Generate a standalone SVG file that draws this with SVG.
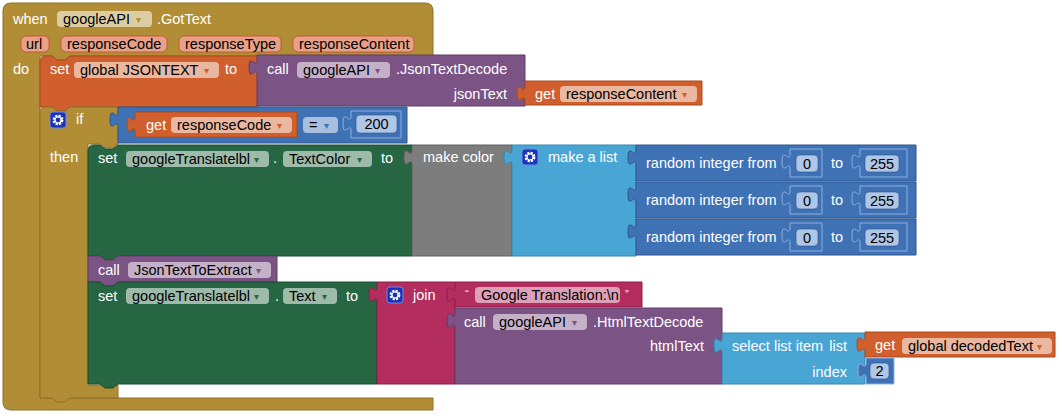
<svg xmlns="http://www.w3.org/2000/svg" width="1062" height="418" viewBox="0 0 1062 418">
<style>
text{font-family:"Liberation Sans",Arial,sans-serif;font-size:14.5px}
.w{fill:#fff}
.k{fill:#000}
.fl{fill:#fff;fill-opacity:0.55}
.a{font-size:10px}
.gold{fill:#B18E35;stroke:#8E7026;stroke-width:1}
.org{fill:#D05F2D;stroke:#A84A20;stroke-width:1}
.pur{fill:#7C5385;stroke:#5F3C68;stroke-width:1}
.blu{fill:#3F71B5;stroke:#2E5690;stroke-width:1}
.lbl{fill:#49A6D4;stroke:#3586AE;stroke-width:1}
.grn{fill:#266643;stroke:#1A4D31;stroke-width:1}
.gry{fill:#7D7D7D;stroke:#606060;stroke-width:1}
.mag{fill:#B32D5E;stroke:#8C1F47;stroke-width:1}
.num{fill:#3F71B5;stroke:#8FB0DE;stroke-width:1}
.nf{fill:#AFC6E6;stroke:#2E5690;stroke-width:0.6}
.chip{fill:#E8A088;stroke:#C25A33;stroke-width:1}
</style>
<defs>
<g id="gear">
<rect x="0" y="0" width="16" height="16" rx="3" fill="#1A33B8" stroke="#6F86E0" stroke-width="1"/>
<circle cx="8" cy="8" r="4.2" fill="none" stroke="#fff" stroke-width="2.4" stroke-dasharray="2.2 1.1"/>
<circle cx="8" cy="8" r="3" fill="none" stroke="#fff" stroke-width="1.2"/>
</g>
</defs>

<g id="event-gottext">
<path class="gold" d="M 3,11 Q 3,3 11,3 H 425 Q 433,3 433,11 V 56 H 70 l -5,4 -8,0 -5,-4 H 40 V 398 H 433 V 410 H 11 Q 3,410 3,402 Z"/>
<text class="w" x="13" y="24">when</text>
<rect class="fl" x="57" y="11" width="95" height="16" rx="4"/>
<text class="k" x="63" y="24">googleAPI</text>
<text class="a" x="136" y="23" fill="#B18E35">▾</text>
<text class="w" x="157" y="24">.GotText</text>
<rect class="chip" x="21" y="36" width="28" height="16" rx="5"/>
<text class="k" x="26" y="49">url</text>
<rect class="chip" x="61" y="36" width="106" height="16" rx="5"/>
<text class="k" x="67" y="49">responseCode</text>
<rect class="chip" x="179" y="36" width="102" height="16" rx="5"/>
<text class="k" x="185" y="49">responseType</text>
<rect class="chip" x="293" y="36" width="121" height="16" rx="5"/>
<text class="k" x="299" y="49">responseContent</text>
<text class="w" x="13" y="74">do</text>
</g>

<g id="set-jsontext">
<path class="org" d="M 40,62 Q 40,56 46,56 H 52 l 5,4 8,0 5,-4 H 258 V 107 H 70 l -5,4 -8,0 -5,-4 H 40 Z"/>
<text class="w" x="50" y="74">set</text>
<rect class="fl" x="74" y="62" width="145" height="16" rx="4"/>
<text class="k" x="80" y="75">global JSONTEXT</text>
<text class="a" x="204" y="74" fill="#D05F2D">▾</text>
<text class="w" x="225" y="74">to</text>
</g>

<g id="call-jsontextdecode">
<path class="pur" d="M 257,55 H 525 V 106 H 257 V 75 c 0,-10 -8,8 -8,-7.5 s 8,2.5 8,-7.5 Z"/>
<text class="w" x="267" y="74">call</text>
<rect class="fl" x="297" y="62" width="93" height="16" rx="4"/>
<text class="k" x="303" y="75">googleAPI</text>
<text class="a" x="375" y="74" fill="#7C5385">▾</text>
<text class="w" x="396" y="74">.JsonTextDecode</text>
<text class="w" x="507" y="99" text-anchor="end">jsonText</text>
</g>

<g id="get-responsecontent">
<path class="org" d="M 525,81 H 702 V 105 H 525 V 101 c 0,-10 -8,8 -8,-7.5 s 8,2.5 8,-7.5 Z"/>
<text class="w" x="535" y="99">get</text>
<rect class="fl" x="560" y="86" width="137" height="16" rx="4"/>
<text class="k" x="566" y="99">responseContent</text>
<text class="a" x="682" y="98" fill="#D05F2D">▾</text>
</g>

<g id="if-block">
<path class="gold" d="M 40,113 Q 40,107 46,107 H 52 l 5,4 8,0 5,-4 H 118 V 144 l -5,4 -8,0 -5,-4 H 88 V 385 H 118 V 398 H 70 l -5,4 -8,0 -5,-4 H 40 Z"/>
<use href="#gear" x="50" y="112"/>
<text class="w" x="76" y="124">if</text>
<text class="w" x="50" y="162">then</text>
</g>

<g id="compare">
<path class="blu" d="M 118,107 H 407 V 143 H 118 V 127 c 0,-10 -8,8 -8,-7.5 s 8,2.5 8,-7.5 Z"/>
<rect class="fl" x="303" y="117" width="35" height="16" rx="4"/>
<text class="k" x="309" y="130">=</text>
<text class="a" x="324" y="129" fill="#3F71B5">▾</text>
</g>

<g id="get-responsecode">
<path class="org" d="M 135,112 H 297 V 137 H 135 V 132 c 0,-10 -8,8 -8,-7.5 s 8,2.5 8,-7.5 Z"/>
<text class="w" x="146" y="130">get</text>
<rect class="fl" x="171" y="117" width="121" height="16" rx="4"/>
<text class="k" x="177" y="130">responseCode</text>
<text class="a" x="277" y="129" fill="#D05F2D">▾</text>
</g>

<g id="number-200">
<path class="num" d="M 351,111 H 401 V 138 H 351 V 131 c 0,-10 -8,8 -8,-7.5 s 8,2.5 8,-7.5 Z"/>
<rect class="nf" x="356" y="115" width="41" height="18" rx="4"/>
<text class="k" x="376.5" y="129" text-anchor="middle">200</text>
</g>

<g id="set-textcolor">
<path class="grn" d="M 88,151 Q 88,145 94,145 H 100 l 5,4 8,0 5,-4 H 412 V 256 H 118 l -5,4 -8,0 -5,-4 H 88 Z"/>
<text class="w" x="98" y="163">set</text>
<rect class="fl" x="126" y="151" width="143" height="16" rx="4"/>
<text class="k" x="132" y="164">googleTranslatelbl</text>
<text class="a" x="254" y="163" fill="#266643">▾</text>
<text class="w" x="273" y="163">.</text>
<rect class="fl" x="283" y="151" width="89" height="16" rx="4"/>
<text class="k" x="289" y="164">TextColor</text>
<text class="a" x="357" y="163" fill="#266643">▾</text>
<text class="w" x="381" y="163">to</text>
</g>

<g id="make-color">
<path class="gry" d="M 412,145 H 512 V 256 H 412 V 165 c 0,-10 -8,8 -8,-7.5 s 8,2.5 8,-7.5 Z"/>
<text class="w" x="423" y="162">make color</text>
</g>

<g id="make-a-list">
<path class="lbl" d="M 512,145 H 636 V 256 H 512 V 165 c 0,-10 -8,8 -8,-7.5 s 8,2.5 8,-7.5 Z"/>
<use href="#gear" x="522" y="149"/>
<text class="w" x="548" y="162">make a list</text>
</g>

<g id="random-1">
<path class="blu" d="M 636,145 H 916 V 181 H 636 V 165 c 0,-10 -8,8 -8,-7.5 s 8,2.5 8,-7.5 Z"/>
<text class="w" x="646" y="168">random integer from</text>
<path class="num" d="M 790,149 H 822 V 177 H 790 V 169 c 0,-10 -8,8 -8,-7.5 s 8,2.5 8,-7.5 Z"/>
<rect class="nf" x="796" y="155" width="22" height="17" rx="4"/>
<text class="k" x="807" y="168.5" text-anchor="middle">0</text>
<text class="w" x="831" y="168">to</text>
<path class="num" d="M 860,149 H 907 V 177 H 860 V 169 c 0,-10 -8,8 -8,-7.5 s 8,2.5 8,-7.5 Z"/>
<rect class="nf" x="865" y="155" width="34" height="17" rx="4"/>
<text class="k" x="882" y="168.5" text-anchor="middle">255</text>
</g>

<g id="random-2">
<path class="blu" d="M 636,182 H 916 V 218 H 636 V 202 c 0,-10 -8,8 -8,-7.5 s 8,2.5 8,-7.5 Z"/>
<text class="w" x="646" y="205">random integer from</text>
<path class="num" d="M 790,186 H 822 V 214 H 790 V 206 c 0,-10 -8,8 -8,-7.5 s 8,2.5 8,-7.5 Z"/>
<rect class="nf" x="796" y="192" width="22" height="17" rx="4"/>
<text class="k" x="807" y="205.5" text-anchor="middle">0</text>
<text class="w" x="831" y="205">to</text>
<path class="num" d="M 860,186 H 907 V 214 H 860 V 206 c 0,-10 -8,8 -8,-7.5 s 8,2.5 8,-7.5 Z"/>
<rect class="nf" x="865" y="192" width="34" height="17" rx="4"/>
<text class="k" x="882" y="205.5" text-anchor="middle">255</text>
</g>

<g id="random-3">
<path class="blu" d="M 636,219 H 916 V 255 H 636 V 239 c 0,-10 -8,8 -8,-7.5 s 8,2.5 8,-7.5 Z"/>
<text class="w" x="646" y="242">random integer from</text>
<path class="num" d="M 790,223 H 822 V 251 H 790 V 243 c 0,-10 -8,8 -8,-7.5 s 8,2.5 8,-7.5 Z"/>
<rect class="nf" x="796" y="229" width="22" height="17" rx="4"/>
<text class="k" x="807" y="242.5" text-anchor="middle">0</text>
<text class="w" x="831" y="242">to</text>
<path class="num" d="M 860,223 H 907 V 251 H 860 V 243 c 0,-10 -8,8 -8,-7.5 s 8,2.5 8,-7.5 Z"/>
<rect class="nf" x="865" y="229" width="34" height="17" rx="4"/>
<text class="k" x="882" y="242.5" text-anchor="middle">255</text>
</g>

<g id="call-jsontexttoextract">
<path class="pur" d="M 88,256 H 100 l 5,4 8,0 5,-4 H 277 V 282 H 118 l -5,4 -8,0 -5,-4 H 88 Z"/>
<text class="w" x="98" y="275">call</text>
<rect class="fl" x="128" y="262" width="143" height="16" rx="4"/>
<text class="k" x="134" y="275">JsonTextToExtract</text>
<text class="a" x="256" y="274" fill="#7C5385">▾</text>
</g>

<g id="set-text">
<path class="grn" d="M 88,282 H 100 l 5,4 8,0 5,-4 H 377 V 384 H 118 l -5,4 -8,0 -5,-4 H 88 Z"/>
<text class="w" x="98" y="301">set</text>
<rect class="fl" x="126" y="288" width="143" height="16" rx="4"/>
<text class="k" x="132" y="301">googleTranslatelbl</text>
<text class="a" x="254" y="300" fill="#266643">▾</text>
<text class="w" x="275" y="301">.</text>
<rect class="fl" x="283" y="288" width="54" height="16" rx="4"/>
<text class="k" x="289" y="301">Text</text>
<text class="a" x="322" y="300" fill="#266643">▾</text>
<text class="w" x="346" y="301">to</text>
</g>

<g id="join">
<path class="mag" d="M 377,282 H 455 V 384 H 377 V 302 c 0,-10 -8,8 -8,-7.5 s 8,2.5 8,-7.5 Z"/>
<use href="#gear" x="387" y="287"/>
<text class="w" x="413" y="300">join</text>
</g>

<g id="text-google-translation">
<path class="mag" d="M 455,282 H 642 V 307 H 455 V 302 c 0,-10 -8,8 -8,-7.5 s 8,2.5 8,-7.5 Z"/>
<text class="w" x="465" y="298" style="font-size:11px">“</text>
<rect class="fl" x="475" y="287" width="145" height="16" rx="4"/>
<text class="k" x="481" y="300">Google Translation:\n</text>
<text class="w" x="625" y="298" style="font-size:11px">”</text>
</g>

<g id="call-htmltextdecode">
<path class="pur" d="M 455,308 H 722 V 384 H 455 V 328 c 0,-10 -8,8 -8,-7.5 s 8,2.5 8,-7.5 Z"/>
<text class="w" x="464" y="327">call</text>
<rect class="fl" x="493" y="314" width="94" height="16" rx="4"/>
<text class="k" x="499" y="327">googleAPI</text>
<text class="a" x="572" y="326" fill="#7C5385">▾</text>
<text class="w" x="593" y="327">.HtmlTextDecode</text>
<text class="w" x="704" y="351" text-anchor="end">htmlText</text>
</g>

<g id="select-list-item">
<path class="lbl" d="M 722,333 H 865 V 384 H 722 V 353 c 0,-10 -8,8 -8,-7.5 s 8,2.5 8,-7.5 Z"/>
<text class="w" x="732" y="351">select list item</text>
<text class="w" x="847" y="351" text-anchor="end">list</text>
<text class="w" x="847" y="377" text-anchor="end">index</text>
</g>

<g id="get-decodedtext">
<path class="org" d="M 865,332 H 1055 V 357 H 865 V 352 c 0,-10 -8,8 -8,-7.5 s 8,2.5 8,-7.5 Z"/>
<text class="w" x="875" y="350">get</text>
<rect class="fl" x="902" y="338" width="150" height="16" rx="4"/>
<text class="k" x="908" y="351">global decodedText</text>
<text class="a" x="1037" y="350" fill="#D05F2D">▾</text>
</g>

<g id="number-2">
<path class="num" d="M 866,358 H 894 V 384 H 866 V 378 c 0,-10 -8,8 -8,-7.5 s 8,2.5 8,-7.5 Z"/>
<rect class="nf" x="870" y="363" width="19" height="16" rx="4"/>
<text class="k" x="879.5" y="376" text-anchor="middle">2</text>
</g>

<g id="connectors"></g>
</svg>
